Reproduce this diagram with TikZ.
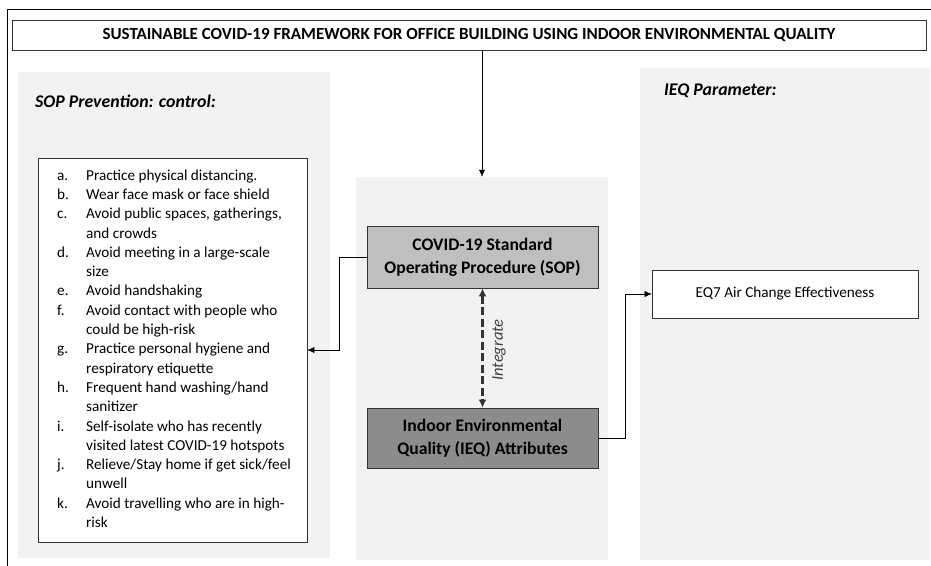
\documentclass[tikz,border=0pt]{standalone}
\usepackage{fontspec}
\setmainfont{Carlito}
\usetikzlibrary{arrows.meta,positioning}

\begin{document}
\begin{tikzpicture}
[x=1pt, y=-1pt,
every node/.style={inner sep=0pt, font=\fontsize{15.2}{19.3}\selectfont},
panel/.style={fill=black!5, draw=none},
box/.style={draw=black!80, thick, fill=white, align=center},
head/.style={anchor=west, font=\fontsize{17.8}{20}\selectfont\bfseries\itshape},
conn/.style={-{Latex[length=7pt,width=6pt]}, thin},
integ/.style={{Latex[length=8pt,width=8pt]}-{Latex[length=8pt,width=8pt]}, line width=2.6pt, dash pattern=on 8pt off 3.5pt, black!80}]

\useasboundingbox (0,0) rectangle (931,565);
\draw[thin] (7,9) rectangle (940,575);

% panels
\node[panel, minimum width=312, minimum height=486] (leftpanel) at (174,315) {};
\node[panel, minimum width=252, minimum height=383] (midpanel) at (482,368.5) {};
\node[panel, minimum width=290, minimum height=492] (rightpanel) at (785,314) {};

\node[box, minimum width=914, minimum height=30, font=\fontsize{17}{20}\selectfont\bfseries] (title) at (469,35)
  {SUSTAINABLE COVID-19 FRAMEWORK FOR OFFICE BUILDING USING INDOOR ENVIRONMENTAL QUALITY};

\node[head] (sophead) at (35,101) {SOP Prevention: control:};
\node[head] (ieqhead) at (664,91) {IEQ Parameter:};

% list of controls
\node[box, minimum width=269, minimum height=384] (soplist) at (172.5,350)
{\begin{tabular}{@{\hspace{3pt}}p{29pt}@{}l@{}}
a. & Practice physical distancing.\\
b. & Wear face mask or face shield\\
c. & Avoid public spaces, gatherings,\\
   & and crowds\\
d. & Avoid meeting in a large-scale\\
   & size\\
e. & Avoid handshaking\\
f. & Avoid contact with people who\\
   & could be high-risk\\
g. & Practice personal hygiene and\\
   & respiratory etiquette\\
h. & Frequent hand washing/hand\\
   & sanitizer\\
i. & Self-isolate who has recently\\
   & visited latest COVID-19 hotspots\\
j. & Relieve/Stay home if get sick/feel\\
   & unwell\\
k. & Avoid travelling who are in high-\\
   & risk
\end{tabular}};

% middle boxes
\node[box, fill=black!25, minimum width=231, minimum height=62, font=\fontsize{17.6}{23}\selectfont\bfseries] (sop) at (482.5,257)
  {COVID-19 Standard\\Operating Procedure (SOP)};
\node[box, fill=black!45, minimum width=231, minimum height=60, font=\fontsize{17.6}{23}\selectfont\bfseries] (ieq) at (482.5,438)
  {Indoor Environmental\\Quality (IEQ) Attributes};

\node[box, minimum width=266, minimum height=48] (eq7) at (785,294) {EQ7 Air Change Effectiveness};

% connectors
\draw[conn] (title.south -| midpanel.north) -- (midpanel.north);
\draw[conn] (sop.west) -- ++(-27,0) |- (soplist.east);
\draw[conn] (ieq.east) -- ++(27,0) |- (eq7.west);
\draw[integ] (sop.south) -- (ieq.north);
\node[rotate=90, font=\fontsize{16.5}{18}\selectfont\itshape, black!75] (integlabel) at (499,350) {Integrate};

\end{tikzpicture}
\end{document}
